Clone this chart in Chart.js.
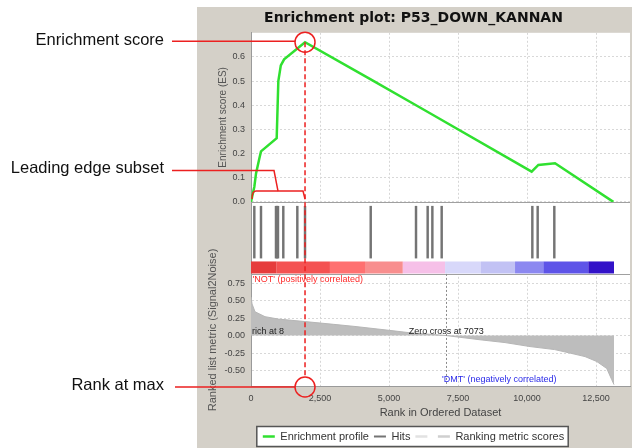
<!DOCTYPE html>
<html>
<head>
<meta charset="utf-8">
<title>Enrichment plot: P53_DOWN_KANNAN</title>
<script src="https://cdn.jsdelivr.net/npm/chart.js@4.4.1/dist/chart.umd.min.js"></script>
<style>
  html, body { margin: 0; padding: 0; background: #fff; }
  #wrap { position: relative; width: 632px; height: 448px; }
</style>
</head>
<body>
<div id="wrap"><canvas id="gseaChart" width="632" height="448"></canvas></div>
<script>
// Running enrichment score (rank in ordered dataset -> ES)
const esRanks  = [0, 121, 182, 302, 362, 931, 990, 1080, 1200, 1957, 4337, 5978, 6485, 10167, 10410, 11014, 13126];
const esValues = [0, 0.063, 0.118, 0.18, 0.209, 0.264, 0.50, 0.565, 0.59, 0.661, 0.507, 0.40, 0.367, 0.125, 0.153, 0.16, 0];

// Ranks of the gene set members (hits)
const hitRanks = [120, 362, 905, 942, 978, 1170, 1678, 1957, 4337, 5978, 6400, 6570, 6908, 10192, 10385, 10988];

// Ranked list metric (Signal2Noise)
const metricRanks  = [0, 40, 145, 507, 1000, 1957, 3000, 3768, 5000, 5690, 7073, 8297, 9200, 10109, 11000, 11558, 12100, 12525, 12888, 13069, 13150];
const metricValues = [0.55, 0.45, 0.34, 0.27, 0.235, 0.2, 0.16, 0.13, 0.075, 0.043, 0, -0.06, -0.1, -0.157, -0.2, -0.25, -0.3, -0.37, -0.47, -0.63, -0.70];

// Heat bar under the hits (segment edges in rank units)
const barEdges  = [0, 930, 2860, 4130, 5500, 7030, 8330, 9565, 10590, 12220, 13150];
const barColors = ['#e63c3c', '#f45252', '#ff7070', '#f88e8e', '#f6c0e8', '#d8d8fa', '#c2c2f4', '#8c88f0', '#5e54e8', '#3212c8'];

// Tick labels
const xTicks      = [0, 2500, 5000, 7500, 10000, 12500];
const esTicks     = [0, 0.1, 0.2, 0.3, 0.4, 0.5, 0.6];
const metricTicks = [-0.5, -0.25, 0, 0.25, 0.5, 0.75];
const zeroCross = 7073;

const FONT = "'Liberation Sans', Arial, sans-serif";
Chart.defaults.font.family = FONT;

const PANEL_X = 197;
const PANEL_Y = 7;
const RED = '#ec2020';

// Backgrounds, legend frame, panel separators, annotations
const gseaDecor = {
    id: 'gseaDecor',
    beforeDraw(chart) {
        const { ctx, chartArea: a, legend } = chart;
        ctx.save();
        ctx.fillStyle = '#fff';
        ctx.fillRect(0, 0, chart.width, chart.height);
        ctx.fillStyle = '#d4d0c8';
        ctx.fillRect(PANEL_X, PANEL_Y, chart.width - PANEL_X, chart.height - PANEL_Y);
        ctx.fillStyle = '#fff';
        ctx.fillRect(a.left, a.top, a.right - a.left, a.bottom - a.top);

        // legend frame
        const boxes = legend.legendHitBoxes || [];
        if (boxes.length) {
            const first = boxes[0];
            const last = boxes[boxes.length - 1];
            const x0 = first.left - 6;
            const x1 = last.left + last.width + 4;
            const cy = first.top + first.height / 2;
            ctx.fillStyle = '#fff';
            ctx.fillRect(x0, cy - 10, x1 - x0, 20);
            ctx.strokeStyle = '#555';
            ctx.lineWidth = 1.5;
            ctx.strokeRect(x0, cy - 10, x1 - x0, 20);
        }
        ctx.restore();
    },
    beforeDatasetsDraw(chart) {
        const { ctx, chartArea: a, scales } = chart;
        const h = scales.yHits;
        ctx.save();
        // hits panel has no grid
        ctx.fillStyle = '#fff';
        ctx.fillRect(a.left + 1, h.top, a.right - a.left - 1, h.bottom - h.top);
        ctx.strokeStyle = '#a0a0a0';
        ctx.lineWidth = 1;
        [scales.yES.bottom, h.bottom].forEach(y => {
            ctx.beginPath();
            ctx.moveTo(a.left, Math.round(y) + 0.5);
            ctx.lineTo(a.right, Math.round(y) + 0.5);
            ctx.stroke();
        });
        ctx.restore();
    },
    afterDraw(chart) {
        const { ctx, chartArea: a, scales } = chart;
        const x = scales.x, yES = scales.yES, yM = scales.yMetric;
        ctx.save();

        // zero cross marker
        const zx = Math.round(x.getPixelForValue(zeroCross)) + 0.5;
        ctx.strokeStyle = '#8a8a8a';
        ctx.lineWidth = 1;
        ctx.setLineDash([2, 2]);
        ctx.beginPath();
        ctx.moveTo(zx, yM.top);
        ctx.lineTo(zx, yM.bottom);
        ctx.stroke();
        ctx.setLineDash([]);

        // labels inside the metric panel
        ctx.font = '9px ' + FONT;
        ctx.textBaseline = 'middle';
        ctx.textAlign = 'left';
        ctx.fillStyle = '#ff2a2a';
        ctx.fillText("'NOT' (positively correlated)", x.getPixelForValue(60), yM.getPixelForValue(0.80));
        ctx.fillStyle = '#2a2ae8';
        ctx.fillText("'DMT' (negatively correlated)", x.getPixelForValue(6920), yM.getPixelForValue(-0.63));
        ctx.fillStyle = '#222';
        ctx.fillText('rich at 8', a.left + 1, yM.getPixelForValue(0.06));
        ctx.textAlign = 'center';
        ctx.fillText('Zero cross at ' + zeroCross, x.getPixelForValue(zeroCross), yM.getPixelForValue(0.06));

        // peak of the running score
        let peak = 0;
        esValues.forEach((v, i) => { if (v > esValues[peak]) peak = i; });
        const px = x.getPixelForValue(esRanks[peak]);
        const py = yES.getPixelForValue(esValues[peak]);
        const by = a.bottom + 1;
        const r = 10;

        ctx.strokeStyle = RED;
        ctx.lineWidth = 1.5;
        // dashed drop line from the peak down to the rank axis
        ctx.setLineDash([5, 3]);
        ctx.beginPath();
        ctx.moveTo(px, py);
        ctx.lineTo(px, by - r);
        ctx.stroke();
        ctx.setLineDash([]);

        // circles
        [[px, py], [px, by]].forEach(([cx, cy]) => {
            ctx.beginPath();
            ctx.arc(cx, cy, r, 0, Math.PI * 2);
            ctx.stroke();
        });

        // leading edge bracket
        const x0 = x.getPixelForValue(0);
        const midX = x.getPixelForValue(esRanks[peak] / 2);
        const yB = yES.getPixelForValue(0.045);
        const yE = yES.getPixelForValue(0.012);
        ctx.beginPath();
        ctx.moveTo(x0 + 1, yE);
        ctx.quadraticCurveTo(x0 + 1, yB, x0 + 5, yB);
        ctx.lineTo(px - 2, yB);
        ctx.lineTo(px, yE);
        ctx.stroke();

        // call-out lines
        const lineStart = 172;
        const yLE = yES.getPixelForValue(0.13);
        ctx.beginPath();
        ctx.moveTo(lineStart, py - 1);
        ctx.lineTo(px - r, py - 1);
        ctx.moveTo(lineStart, yLE);
        ctx.lineTo(midX - 4, yLE);
        ctx.lineTo(midX, yB);
        ctx.moveTo(lineStart + 3, by);
        ctx.lineTo(px - r, by);
        ctx.stroke();

        // call-out texts
        ctx.font = '16.5px ' + FONT;
        ctx.fillStyle = '#111';
        ctx.textAlign = 'right';
        ctx.textBaseline = 'middle';
        ctx.fillText('Enrichment score', 164, py - 2);
        ctx.fillText('Leading edge subset', 164, yLE - 2);
        ctx.fillText('Rank at max', 164, by - 2);
        ctx.restore();
    }
};

// Datasets built from the arrays above
const esData = esRanks.map((r, i) => ({ x: r, y: esValues[i] }));
const hitData = hitRanks.map(r => ({ x: r, y: [0.22, 0.94] }));
const metricData = metricRanks.map((r, i) => ({ x: r, y: metricValues[i] }));
const barData = barEdges.map(r => ({ x: r, y: 0.09 }));

const tickFont = { size: 9 };

const ctx = document.getElementById('gseaChart').getContext('2d');
new Chart(ctx, {
    type: 'line',
    data: {
        datasets: [
            {
                label: 'Enrichment profile',
                data: esData,
                yAxisID: 'yES',
                borderColor: '#30e030',
                borderWidth: 2.5,
                pointRadius: 0,
                tension: 0,
                fill: false
            },
            {
                type: 'bar',
                label: 'Hits',
                data: hitData,
                yAxisID: 'yHits',
                backgroundColor: '#747474',
                borderWidth: 0,
                barThickness: 1.8,
                grouped: false
            },
            {
                label: '',
                data: barData,
                yAxisID: 'yHits',
                borderColor: barColors[0],
                legendColor: '#e2e2e2',
                borderWidth: 12,
                borderCapStyle: 'butt',
                pointRadius: 0,
                fill: false,
                segment: {
                    borderColor: c => barColors[c.p0DataIndex]
                }
            },
            {
                label: 'Ranking metric scores',
                data: metricData,
                yAxisID: 'yMetric',
                borderColor: '#b6b6b6',
                legendColor: '#cfcfcf',
                backgroundColor: '#bdbdbd',
                borderWidth: 1,
                pointRadius: 0,
                tension: 0,
                fill: 'origin'
            }
        ]
    },
    options: {
        responsive: false,
        animation: false,
        events: [],
        layout: { padding: { left: PANEL_X, right: 2, top: PANEL_Y, bottom: -4 } },
        plugins: {
            title: {
                display: true,
                text: 'Enrichment plot: P53_DOWN_KANNAN',
                color: '#111',
                font: { family: "'DejaVu Sans', sans-serif", size: 14, weight: 'bold' },
                padding: { top: 3, bottom: 6 }
            },
            legend: {
                position: 'bottom',
                labels: {
                    usePointStyle: true,
                    pointStyleWidth: 12,
                    padding: 5,
                    color: '#333',
                    font: { size: 11 },
                    generateLabels(chart) {
                        return chart.data.datasets
                            .map((ds, i) => ({ ds, i }))
                            .filter(o => typeof o.ds.label === 'string')
                            .map(({ ds, i }) => ({
                                text: ds.label,
                                strokeStyle: ds.legendColor || (ds.type === 'bar' ? ds.backgroundColor : ds.borderColor),
                                fillStyle: 'transparent',
                                lineWidth: ds.type === 'bar' ? 2 : 2.5,
                                pointStyle: 'line',
                                fontColor: '#333',
                                hidden: false,
                                datasetIndex: i
                            }));
                    }
                }
            },
            tooltip: { enabled: false }
        },
        scales: {
            x: {
                type: 'linear',
                min: 0,
                max: 13730,
                offset: false,
                afterBuildTicks: s => { s.ticks = xTicks.map(v => ({ value: v })); },
                afterFit: s => { s.height = 40; },
                ticks: {
                    callback: v => v.toLocaleString('en-US'),
                    font: tickFont,
                    color: '#444',
                    maxRotation: 0,
                    padding: 7
                },
                grid: { color: '#d6d6d6', drawTicks: false, offset: false },
                border: { color: '#9a9a9a', dash: [2, 2] },
                title: {
                    display: true,
                    text: 'Rank in Ordered Dataset',
                    color: '#444',
                    font: { size: 11 },
                    padding: { top: 3, bottom: 6 }
                }
            },
            yES: {
                type: 'linear',
                position: 'left',
                stack: 'gsea',
                stackWeight: 169,
                weight: 3,
                min: 0,
                max: 0.7,
                afterBuildTicks: s => { s.ticks = esTicks.map(v => ({ value: v })); },
                afterFit: s => { s.width = 54; },
                ticks: { callback: v => v.toFixed(1), font: tickFont, color: '#444', padding: 6 },
                grid: { color: '#d8d8d8', drawTicks: false },
                border: { color: '#9a9a9a', dash: [2, 2] },
                title: {
                    display: true,
                    text: 'Enrichment score (ES)',
                    color: '#555',
                    font: { size: 10 },
                    padding: { top: 20, bottom: 0 }
                }
            },
            yHits: {
                type: 'linear',
                position: 'left',
                stack: 'gsea',
                stackWeight: 72,
                weight: 2,
                min: 0,
                max: 1,
                afterFit: s => { s.width = 54; },
                ticks: { display: false },
                grid: { display: false },
                border: { color: '#9a9a9a' }
            },
            yMetric: {
                type: 'linear',
                position: 'left',
                stack: 'gsea',
                stackWeight: 112,
                weight: 1,
                min: -0.72,
                max: 0.88,
                afterBuildTicks: s => { s.ticks = metricTicks.map(v => ({ value: v })); },
                afterFit: s => { s.width = 54; },
                ticks: { callback: v => v.toFixed(2), font: tickFont, color: '#444', padding: 6 },
                grid: { color: '#d8d8d8', drawTicks: false },
                border: { color: '#9a9a9a', dash: [2, 2] },
                title: {
                    display: true,
                    text: 'Ranked list metric (Signal2Noise)',
                    color: '#555',
                    font: { size: 11 },
                    padding: { top: 9, bottom: 0 }
                }
            }
        }
    },
    plugins: [gseaDecor]
});
</script>
</body>
</html>
